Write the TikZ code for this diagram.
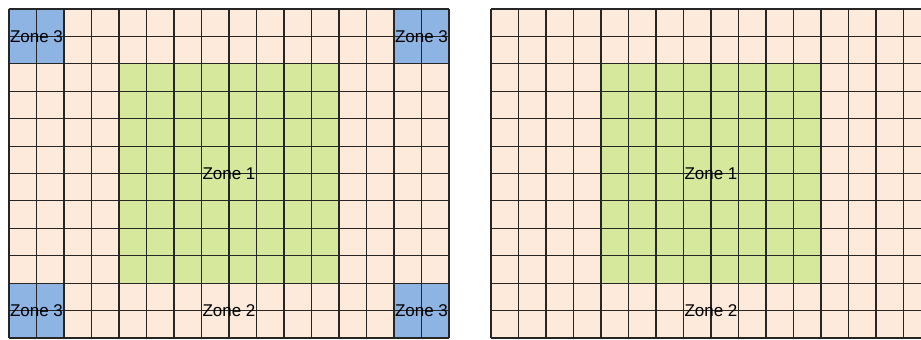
\documentclass[tikz,border=0pt]{standalone}
\usepackage{fontspec}
\setmainfont{Liberation Sans}

\definecolor{peach}{HTML}{FDEADA}
\definecolor{zonegreen}{HTML}{D5E89C}
\definecolor{zoneblue}{HTML}{8EB4E3}

\tikzset{
    zonelabel/.style={font=\fontsize{17}{20}\selectfont, inner sep=0pt},
    gridline/.style={line width=1.1pt, black!85}
}

\begin{document}
\begin{tikzpicture}[x=27.5pt, y=27.42pt]
        \clip (-0.327,-0.036) rectangle (33.164,12.328);
        % left sheet
        \fill[peach] (0,0) rectangle (16,12);
        \fill[zonegreen] (4,2) rectangle (12,10);
        \fill[zoneblue] (0,0) rectangle (2,2);
        \fill[zoneblue] (14,0) rectangle (16,2);
        \fill[zoneblue] (0,10) rectangle (2,12);
        \fill[zoneblue] (14,10) rectangle (16,12);
        \draw[gridline, step=1] (0,0) grid (16,12);
        \node[zonelabel] (zone1L) at (8,6) {Zone 1};
        \node[zonelabel] (zone2L) at (8,1) {Zone 2};
        \node[zonelabel] (zone3LB) at (1,1) {Zone 3};
        \node[zonelabel] (zone3RB) at (15,1) {Zone 3};
        \node[zonelabel] (zone3LT) at (1,11) {Zone 3};
        \node[zonelabel] (zone3RT) at (15,11) {Zone 3};
        % right sheet
        \begin{scope}[shift={(17.527,0)}]
            \fill[peach] (0,0) rectangle (16,12);
            \fill[zonegreen] (4,2) rectangle (12,10);
            \draw[gridline, step=1] (0,0) grid (16,12);
            \node[zonelabel] (zone1R) at (8,6) {Zone 1};
            \node[zonelabel] (zone2R) at (8,1) {Zone 2};
        \end{scope}
    \end{tikzpicture}
\end{document}
